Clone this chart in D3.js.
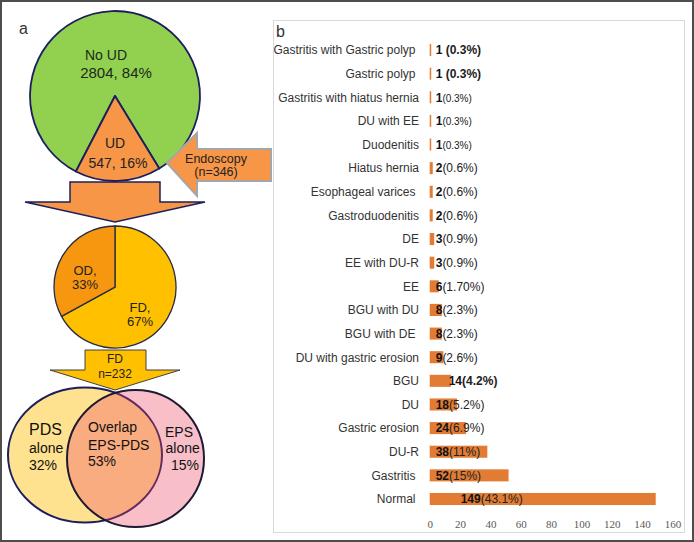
<!DOCTYPE html>
<html>
<head>
<meta charset="utf-8">
<script src="https://cdn.jsdelivr.net/npm/d3@7"></script>
<style>
body { margin: 0; background: #fff; }
svg { display: block; font-family: "Liberation Sans", Arial, sans-serif; }
</style>
</head>
<body>
<div id="chart"></div>
<script>
// ---- panel a: flow diagram data
let screenLabels = ["No UD", "UD"];
let screenCounts = [2804, 547];
let screenPct = ["84%", "16%"];
let udLabels = ["FD", "OD"];
let udPct = [67, 33];
let endoCount = 346;
let fdCount = 232;
let vennLabels = [["PDS", "alone"], ["Overlap", "EPS-PDS"], ["EPS", "alone"]];
let vennPct = [32, 53, 15];

// ---- panel b: endoscopic findings
let categories = ["Gastritis with Gastric polyp", "Gastric polyp", "Gastritis with hiatus hernia",
    "DU with EE", "Duodenitis", "Hiatus hernia", "Esophageal varices", "Gastroduodenitis", "DE",
    "EE with DU-R", "EE", "BGU with DU", "BGU with DE", "DU with gastric erosion", "BGU", "DU",
    "Gastric erosion", "DU-R", "Gastritis", "Normal"];
let counts = [1, 1, 1, 1, 1, 2, 2, 2, 3, 3, 6, 8, 8, 9, 14, 18, 24, 38, 52, 149];
let pctLabels = ["0.3%", "0.3%", "0.3%", "0.3%", "0.3%", "0.6%", "0.6%", "0.6%", "0.9%", "0.9%",
    "1.70%", "2.3%", "2.3%", "2.6%", "4.2%", "5.2%", "6.9%", "11%", "15%", "43.1%"];
let xTicks = [0, 20, 40, 60, 80, 100, 120, 140, 160];

let W = 694, H = 542;
let svg = d3.select("#chart").append("svg").attr("width", W).attr("height", H);

// outer frame
svg.append("rect").attr("x", 1).attr("y", 1).attr("width", W - 2).attr("height", H - 2)
    .attr("fill", "#fff").attr("stroke", "#4d4d4d").attr("stroke-width", 2);

let navy = "#1c1f5c";

/* ================= panel a ================= */
let a = svg.append("g");
a.append("text").attr("x", 19).attr("y", 34).attr("font-size", 16).attr("fill", "#333").text("a");

// screening pie (No UD / UD)
let total = d3.sum(screenCounts);
let f = screenCounts[1] / total;
let udMid = 178 * Math.PI / 180;
let a0 = udMid - f * Math.PI - (1 - f) * 2 * Math.PI;
let pie1 = d3.pie().sort(null).startAngle(a0).endAngle(a0 + 2 * Math.PI);
let arc1 = d3.arc().innerRadius(0).outerRadius(85);
let g1 = a.append("g").attr("transform", "translate(115,96)");
g1.selectAll("path").data(pie1(screenCounts)).enter().append("path")
    .attr("d", arc1)
    .attr("fill", (d, i) => i == 0 ? "#92d050" : "#f79646")
    .attr("stroke", navy).attr("stroke-width", 1.8).attr("stroke-linejoin", "round");

a.append("text").attr("x", 106).attr("y", 60).attr("text-anchor", "middle").attr("font-size", 14)
    .attr("fill", "#1a2a1a").text(screenLabels[0]);
a.append("text").attr("x", 116).attr("y", 78).attr("text-anchor", "middle").attr("font-size", 15)
    .attr("fill", "#1a2a1a").text(screenCounts[0] + ", " + screenPct[0]);
a.append("text").attr("x", 115).attr("y", 148).attr("text-anchor", "middle").attr("font-size", 14)
    .attr("fill", "#222").text(screenLabels[1]);
a.append("text").attr("x", 118).attr("y", 168).attr("text-anchor", "middle").attr("font-size", 14)
    .attr("fill", "#222").text(screenCounts[1] + ", " + screenPct[1]);

// endoscopy arrow (pointing left)
a.append("path")
    .attr("d", "M167,163 L197,133 L197,149 L271,149 L271,181 L197,181 L197,196 Z")
    .attr("fill", "#f79646").attr("stroke", "#a6a6a6").attr("stroke-width", 2);
a.append("text").attr("x", 216).attr("y", 163).attr("text-anchor", "middle").attr("font-size", 12.5)
    .attr("fill", "#222").text("Endoscopy");
a.append("text").attr("x", 216).attr("y", 176).attr("text-anchor", "middle").attr("font-size", 12.5)
    .attr("fill", "#222").text("(n=" + endoCount + ")");

// big down arrow
a.append("path")
    .attr("d", "M70,182 L160,182 L160,202 L205,202 L115,222 L25,202 L70,202 Z")
    .attr("fill", "#f79646").attr("stroke", navy).attr("stroke-width", 1.5);

// FD / OD pie
let pie2 = d3.pie().sort(null);
let arc2 = d3.arc().innerRadius(0).outerRadius(61);
let g2 = a.append("g").attr("transform", "translate(115,287)");
g2.selectAll("path").data(pie2(udPct)).enter().append("path")
    .attr("d", arc2)
    .attr("fill", (d, i) => i == 0 ? "#ffc000" : "#f7960f")
    .attr("stroke", "#262b47").attr("stroke-width", 1.3);

a.append("text").attr("x", 85).attr("y", 275).attr("text-anchor", "middle").attr("font-size", 13)
    .attr("fill", "#222").text(udLabels[1] + ",");
a.append("text").attr("x", 85).attr("y", 289).attr("text-anchor", "middle").attr("font-size", 13)
    .attr("fill", "#222").text(udPct[1] + "%");
a.append("text").attr("x", 140).attr("y", 312).attr("text-anchor", "middle").attr("font-size", 13)
    .attr("fill", "#222").text(udLabels[0] + ",");
a.append("text").attr("x", 140).attr("y", 326).attr("text-anchor", "middle").attr("font-size", 13)
    .attr("fill", "#222").text(udPct[0] + "%");

// FD arrow
a.append("path")
    .attr("d", "M85,350 L146,350 L146,370 L180,370 L115,390 L50,370 L85,370 Z")
    .attr("fill", "#ffc000").attr("stroke", "#404040").attr("stroke-width", 1);
a.append("text").attr("x", 115).attr("y", 363).attr("text-anchor", "middle").attr("font-size", 12)
    .attr("fill", "#222").text("FD");
a.append("text").attr("x", 115).attr("y", 378).attr("text-anchor", "middle").attr("font-size", 12)
    .attr("fill", "#222").text("n=" + fdCount);

// Venn
a.append("ellipse").attr("cx", 85).attr("cy", 455).attr("rx", 77).attr("ry", 67.5)
    .attr("fill", "#ffe28f").attr("stroke", navy).attr("stroke-width", 2);
a.append("ellipse").attr("cx", 135.5).attr("cy", 458.5).attr("rx", 68.5).attr("ry", 68.5)
    .attr("fill", "rgba(236,66,96,0.34)").attr("stroke", "#1e1a33").attr("stroke-width", 2);

let vt = (x, y, s, txt, anchor) => a.append("text").attr("x", x).attr("y", y)
    .attr("font-size", s).attr("text-anchor", anchor || "start").attr("fill", "#111").text(txt);
vt(29, 435, 16, vennLabels[0][0]);
vt(29, 453, 14, vennLabels[0][1]);
vt(29, 470, 14, vennPct[0] + "%");
vt(88, 432, 14, vennLabels[1][0]);
vt(88, 450, 14, vennLabels[1][1]);
vt(88, 466, 14, vennPct[1] + "%");
vt(165, 437, 14, vennLabels[2][0]);
vt(165.5, 453, 14, vennLabels[2][1]);
vt(199, 470, 14, vennPct[2] + "%", "end");

/* ================= panel b ================= */
let b = svg.append("g");
b.append("rect").attr("x", 273.5).attr("y", 20.5).attr("width", 411).attr("height", 512)
    .attr("fill", "none").attr("stroke", "#d9d9d9").attr("stroke-width", 1);
b.append("text").attr("x", 276).attr("y", 36.5).attr("font-size", 16).attr("fill", "#333").text("b");

let x = d3.scaleLinear().domain([0, 160]).range([429.7, 672.4]);
let y = d3.scaleBand().domain(categories).range([38.2, 510.8]).paddingInner(0.49).paddingOuter(0.245);

b.selectAll("rect.bar").data(categories).enter().append("rect")
    .attr("class", "bar")
    .attr("x", x(0))
    .attr("y", d => y(d))
    .attr("width", (d, i) => x(counts[i]) - x(0))
    .attr("height", y.bandwidth())
    .attr("fill", "#e27c34");

// category names (some original labels sit a little further left)
let shiftLeft = ["Gastritis with Gastric polyp", "Gastric polyp", "Esophageal varices", "BGU with DE", "Gastritis", "Normal"];
b.selectAll("text.cat").data(categories).enter().append("text")
    .attr("class", "cat")
    .attr("x", d => shiftLeft.includes(d) ? 415.5 : 419)
    .attr("y", d => y(d) + y.bandwidth() / 2 + 4.3)
    .attr("text-anchor", "end")
    .attr("font-size", 12)
    .attr("fill", "#333")
    .text(d => d);

// value labels
let labelDx = { "BGU": 13, "Normal": 25 };
categories.forEach((c, i) => {
    let allBold = i < 2 || c == "BGU";
    let t = b.append("text")
        .attr("x", x(0) + 6 + (labelDx[c] || 0))
        .attr("y", y(c) + y.bandwidth() / 2 + 4.3)
        .attr("font-size", 12)
        .attr("fill", "#222");
    t.append("tspan").attr("font-weight", "bold").attr("fill", "#111")
        .text(counts[i] + (i < 2 ? " " : ""));
    t.append("tspan")
        .attr("font-weight", allBold ? "bold" : "normal")
        .attr("font-size", (!allBold && counts[i] == 1) ? 10 : 12)
        .text("(" + pctLabels[i] + ")");
});

// x axis (labels only)
let xAxis = d3.axisBottom(x).tickValues(xTicks).tickSize(0).tickPadding(4);
let ax = b.append("g").attr("transform", "translate(0,516)").call(xAxis);
ax.select(".domain").remove();
ax.selectAll("text").attr("font-family", "'Liberation Serif', 'Times New Roman', serif")
    .attr("font-size", 11).attr("fill", "#595959");
</script>
</body>
</html>
